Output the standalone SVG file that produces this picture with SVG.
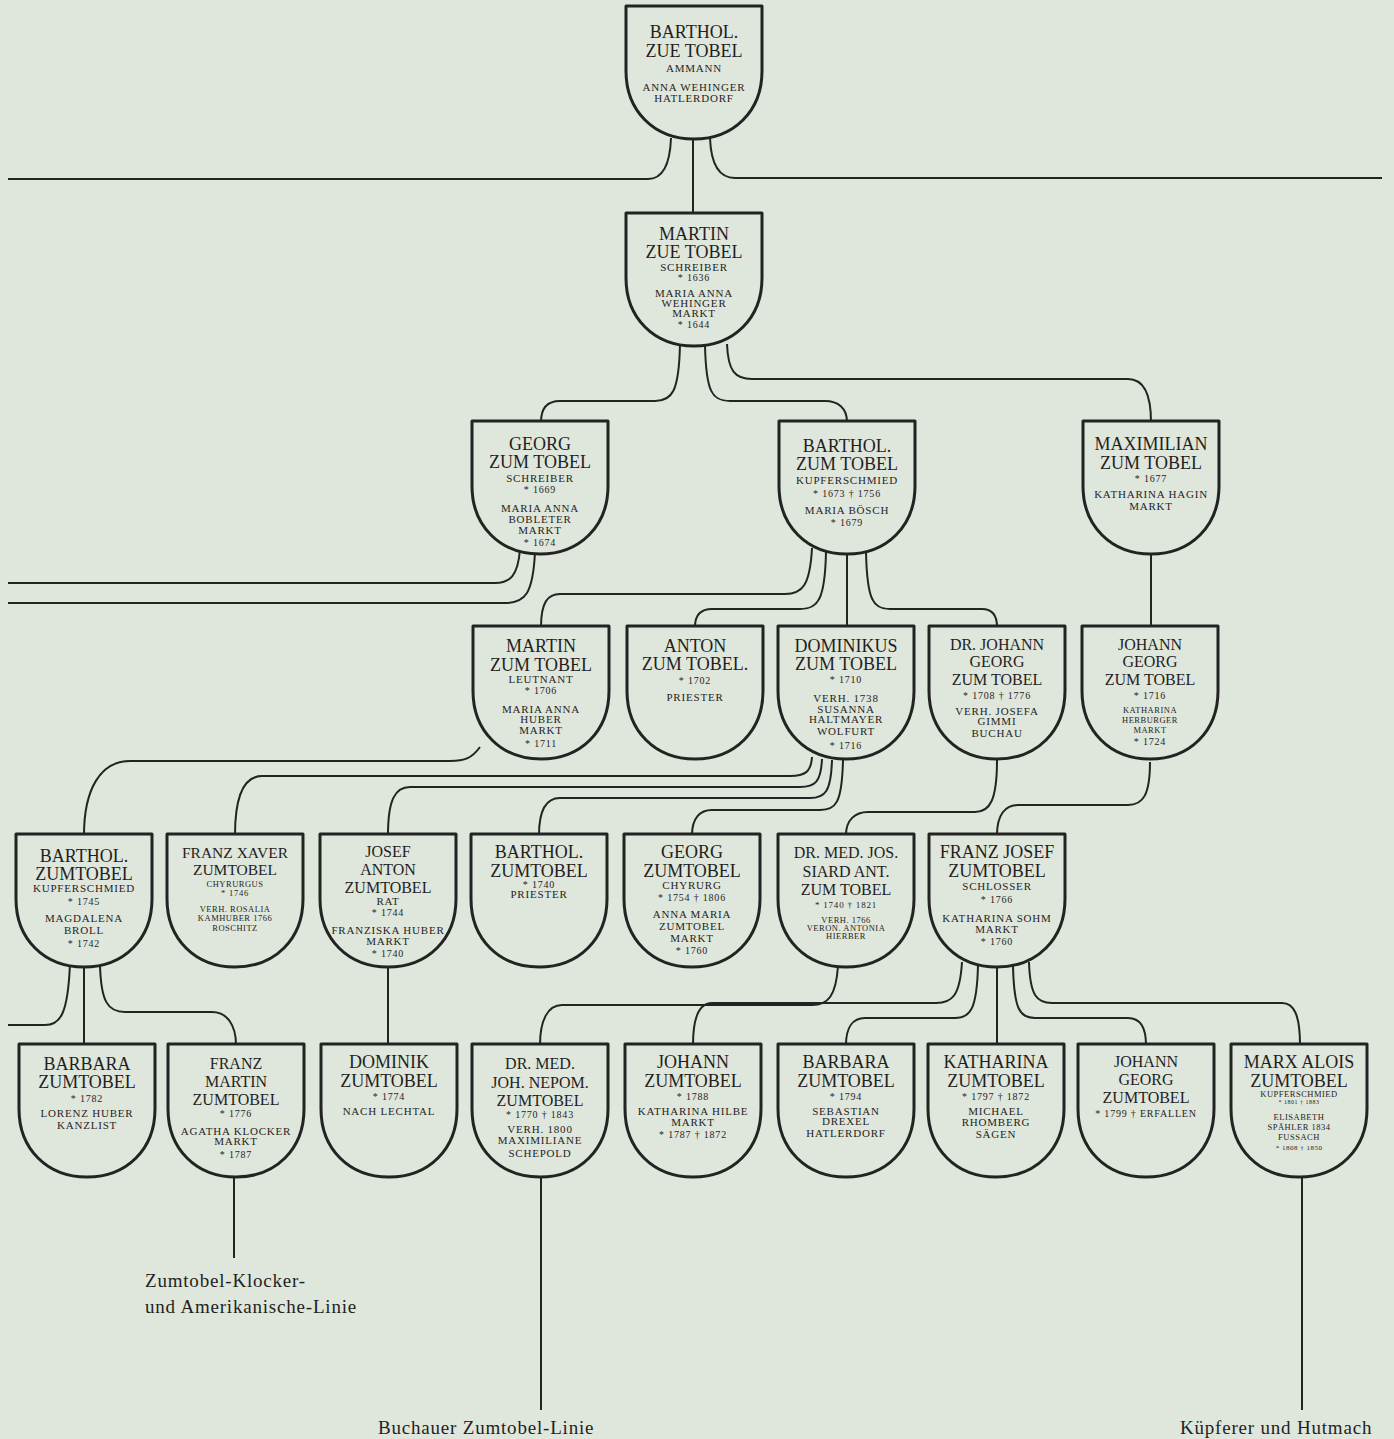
<svg xmlns="http://www.w3.org/2000/svg" xmlns:xlink="http://www.w3.org/1999/xlink" width="1394" height="1439" viewBox="0 0 1394 1439">
<style>
.bg{fill:#dfe6db}
.sh{fill:#dfe6db;stroke:#232323;stroke-width:3;stroke-linejoin:round}
.c{fill:none;stroke:#232323;stroke-width:2}
text{font-family:"Liberation Serif",serif;fill:#1f1f1f;text-anchor:middle}
.n{font-size:18px}
.n3{font-size:16px}
.m{font-size:15.5px}
.s{font-size:11px;letter-spacing:0.8px}
.y{font-size:10px;letter-spacing:0.8px}
.t{font-size:8.5px;letter-spacing:0.5px}
.lab{font-size:19px;letter-spacing:0.8px;text-anchor:start}
</style>
<defs>
<path id="shield" d="M-68,0 H68 V65 C68,105 40,133 0,133 C-40,133 -68,105 -68,65 Z"/>
</defs>
<rect class="bg" x="0" y="0" width="1394" height="1439"/>

<g id="connectors">
<path class="c" d="M8,179 H648 C663,179 670,165 671,138"/>
<path class="c" d="M710,138 C711,165 720,178 735,178 H1382"/>
<path class="c" d="M693,139 V214"/>
<path class="c" d="M680,344 C679,392 672,401 655,401 H560 C548,401 541,408 541,422"/>
<path class="c" d="M705,345 C706,392 712,401 730,401 H825 C838,401 847,408 847,422"/>
<path class="c" d="M727,344 C728,371 735,379 752,379 H1128 C1142,379 1151,390 1151,422"/>
<path class="c" d="M520,549 C518,576 510,583 495,583 H8"/>
<path class="c" d="M535,552 C533,594 525,603 505,603 H8"/>
<path class="c" d="M812,548 C810,586 802,594 785,594 H560 C548,594 541,602 541,627"/>
<path class="c" d="M826,552 C825,600 818,609 800,609 H712 C701,609 695,615 695,627"/>
<path class="c" d="M847,555 V627"/>
<path class="c" d="M866,552 C867,600 873,609 890,609 H982 C992,609 997,615 997,627"/>
<path class="c" d="M1151,555 V627"/>
<path class="c" d="M480,747 C472,758 465,761 450,761 H130 C100,761 84,790 84,835"/>
<path class="c" d="M812,757 C811,772 805,776 790,776 H262 C244,776 235,795 235,835"/>
<path class="c" d="M822,759 C821,782 815,787 800,787 H410 C395,787 388,800 388,835"/>
<path class="c" d="M832,760 C831,792 825,798 810,798 H560 C547,798 539,808 539,835"/>
<path class="c" d="M843,760 C842,803 836,810 820,810 H712 C700,810 692,818 692,835"/>
<path class="c" d="M997,760 C997,800 990,812 975,812 H868 C855,812 846,820 846,835"/>
<path class="c" d="M1150,762 C1150,795 1143,805 1128,805 H1018 C1005,805 997,815 997,835"/>
<path class="c" d="M70,963 C68,1015 60,1025 45,1025 H8"/>
<path class="c" d="M84,968 V1045"/>
<path class="c" d="M100,965 C101,1002 108,1012 125,1012 H212 C227,1012 236,1025 236,1045"/>
<path class="c" d="M388,968 V1045"/>
<path class="c" d="M838,966 C836,996 828,1005 812,1005 H562 C548,1005 540,1020 540,1045"/>
<path class="c" d="M962,962 C960,996 952,1003 936,1003 H712 C700,1003 693,1015 693,1045"/>
<path class="c" d="M978,965 C977,1010 970,1018 955,1018 H865 C853,1018 846,1027 846,1045"/>
<path class="c" d="M997,968 V1045"/>
<path class="c" d="M1013,966 C1014,1010 1020,1018 1035,1018 H1128 C1140,1018 1146,1027 1146,1045"/>
<path class="c" d="M1029,962 C1030,996 1037,1003 1052,1003 H1282 C1294,1003 1300,1015 1300,1045"/>
<path class="c" d="M234,1177 V1258"/>
<path class="c" d="M541,1177 V1410"/>
<path class="c" d="M1302,1177 V1410"/>
</g>

<g id="n-barthol-zue"><use href="#shield" x="694" y="6" class="sh"/>
<text class="n" x="694" y="38">BARTHOL.</text><text class="n" x="694" y="57">ZUE TOBEL</text>
<text class="s" x="694" y="72">AMMANN</text><text class="s" x="694" y="91">ANNA WEHINGER</text><text class="s" x="694" y="102">HATLERDORF</text></g>

<g id="n-martin-zue"><use href="#shield" x="694" y="213" class="sh"/>
<text class="n" x="694" y="240">MARTIN</text><text class="n" x="694" y="258">ZUE TOBEL</text>
<text class="s" x="694" y="271">SCHREIBER</text><text class="y" x="694" y="281">* 1636</text>
<text class="s" x="694" y="297">MARIA ANNA</text><text class="s" x="694" y="307">WEHINGER</text><text class="s" x="694" y="317">MARKT</text><text class="y" x="694" y="328">* 1644</text></g>

<g id="n-georg"><use href="#shield" x="540" y="421" class="sh"/>
<text class="n" x="540" y="450">GEORG</text><text class="n" x="540" y="468">ZUM TOBEL</text>
<text class="s" x="540" y="482">SCHREIBER</text><text class="y" x="540" y="493">* 1669</text>
<text class="s" x="540" y="512">MARIA ANNA</text><text class="s" x="540" y="523">BOBLETER</text><text class="s" x="540" y="534">MARKT</text><text class="y" x="540" y="546">* 1674</text></g>

<g id="n-barthol-zum"><use href="#shield" x="847" y="421" class="sh"/>
<text class="n" x="847" y="452">BARTHOL.</text><text class="n" x="847" y="470">ZUM TOBEL</text>
<text class="s" x="847" y="484">KUPFERSCHMIED</text><text class="y" x="847" y="497">* 1673 † 1756</text>
<text class="s" x="847" y="514">MARIA BÖSCH</text><text class="y" x="847" y="526">* 1679</text></g>

<g id="n-maximilian"><use href="#shield" x="1151" y="421" class="sh"/>
<text class="n" x="1151" y="450">MAXIMILIAN</text><text class="n" x="1151" y="469">ZUM TOBEL</text>
<text class="y" x="1151" y="482">* 1677</text>
<text class="s" x="1151" y="498">KATHARINA HAGIN</text><text class="s" x="1151" y="510">MARKT</text></g>

<g id="n-martin-zum"><use href="#shield" x="541" y="626" class="sh"/>
<text class="n" x="541" y="652">MARTIN</text><text class="n" x="541" y="671">ZUM TOBEL</text>
<text class="s" x="541" y="683">LEUTNANT</text><text class="y" x="541" y="694">* 1706</text>
<text class="s" x="541" y="713">MARIA ANNA</text><text class="s" x="541" y="723">HUBER</text><text class="s" x="541" y="734">MARKT</text><text class="y" x="541" y="747">* 1711</text></g>

<g id="n-anton"><use href="#shield" x="695" y="626" class="sh"/>
<text class="n" x="695" y="652">ANTON</text><text class="n" x="695" y="670">ZUM TOBEL.</text>
<text class="y" x="695" y="684">* 1702</text><text class="s" x="695" y="701">PRIESTER</text></g>

<g id="n-dominikus"><use href="#shield" x="846" y="626" class="sh"/>
<text class="n" x="846" y="652">DOMINIKUS</text><text class="n" x="846" y="670">ZUM TOBEL</text>
<text class="y" x="846" y="683">* 1710</text>
<text class="s" x="846" y="702">VERH. 1738</text><text class="s" x="846" y="713">SUSANNA</text><text class="s" x="846" y="723">HALTMAYER</text><text class="s" x="846" y="735">WOLFURT</text><text class="y" x="846" y="749">* 1716</text></g>

<g id="n-dr-johann-georg"><use href="#shield" x="997" y="626" class="sh"/>
<text class="n3" x="997" y="650">DR. JOHANN</text><text class="n3" x="997" y="667">GEORG</text><text class="n3" x="997" y="685">ZUM TOBEL</text>
<text class="y" x="997" y="699">* 1708 † 1776</text>
<text class="s" x="997" y="715">VERH. JOSEFA</text><text class="s" x="997" y="725">GIMMI</text><text class="s" x="997" y="737">BUCHAU</text></g>

<g id="n-johann-georg"><use href="#shield" x="1150" y="626" class="sh"/>
<text class="n3" x="1150" y="650">JOHANN</text><text class="n3" x="1150" y="667">GEORG</text><text class="n3" x="1150" y="685">ZUM TOBEL</text>
<text class="y" x="1150" y="699">* 1716</text>
<text class="t" x="1150" y="713">KATHARINA</text><text class="t" x="1150" y="723">HERBURGER</text><text class="t" x="1150" y="733">MARKT</text><text class="y" x="1150" y="745">* 1724</text></g>

<g id="n-barthol-zumtobel"><use href="#shield" x="84" y="834" class="sh"/>
<text class="n" x="84" y="862">BARTHOL.</text><text class="n" x="84" y="880">ZUMTOBEL</text>
<text class="s" x="84" y="892">KUPFERSCHMIED</text><text class="y" x="84" y="905">* 1745</text>
<text class="s" x="84" y="922">MAGDALENA</text><text class="s" x="84" y="934">BROLL</text><text class="y" x="84" y="947">* 1742</text></g>

<g id="n-franz-xaver"><use href="#shield" x="235" y="834" class="sh"/>
<text class="m" x="235" y="858">FRANZ XAVER</text><text class="m" x="235" y="875">ZUMTOBEL</text>
<text class="t" x="235" y="887">CHYRURGUS</text><text class="y" x="235" y="896" style="font-size:8.5px">* 1746</text>
<text class="t" x="235" y="912">VERH. ROSALIA</text><text class="t" x="235" y="921">KAMHUBER 1766</text><text class="t" x="235" y="931">ROSCHITZ</text></g>

<g id="n-josef-anton"><use href="#shield" x="388" y="834" class="sh"/>
<text class="n3" x="388" y="857">JOSEF</text><text class="n3" x="388" y="875">ANTON</text><text class="n3" x="388" y="893">ZUMTOBEL</text>
<text class="s" x="388" y="905">RAT</text><text class="y" x="388" y="916">* 1744</text>
<text class="s" x="388" y="934">FRANZISKA HUBER</text><text class="s" x="388" y="945">MARKT</text><text class="y" x="388" y="957">* 1740</text></g>

<g id="n-barthol-priester"><use href="#shield" x="539" y="834" class="sh"/>
<text class="n" x="539" y="858">BARTHOL.</text><text class="n" x="539" y="877">ZUMTOBEL</text>
<text class="y" x="539" y="888">* 1740</text><text class="s" x="539" y="898">PRIESTER</text></g>

<g id="n-georg-zumtobel"><use href="#shield" x="692" y="834" class="sh"/>
<text class="n" x="692" y="858">GEORG</text><text class="n" x="692" y="877">ZUMTOBEL</text>
<text class="s" x="692" y="889">CHYRURG</text><text class="y" x="692" y="901">* 1754 † 1806</text>
<text class="s" x="692" y="918">ANNA MARIA</text><text class="s" x="692" y="930">ZUMTOBEL</text><text class="s" x="692" y="942">MARKT</text><text class="y" x="692" y="954">* 1760</text></g>

<g id="n-dr-med-jos"><use href="#shield" x="846" y="834" class="sh"/>
<text class="n3" x="846" y="858">DR. MED. JOS.</text><text class="n3" x="846" y="877">SIARD ANT.</text><text class="n3" x="846" y="895">ZUM TOBEL</text>
<text class="y" x="846" y="908" style="font-size:9px">* 1740 † 1821</text>
<text class="t" x="846" y="923">VERH. 1766</text><text class="t" x="846" y="931">VERON. ANTONIA</text><text class="t" x="846" y="939">HIERBER</text></g>

<g id="n-franz-josef"><use href="#shield" x="997" y="834" class="sh"/>
<text class="n" x="997" y="858">FRANZ JOSEF</text><text class="n" x="997" y="877">ZUMTOBEL</text>
<text class="s" x="997" y="890">SCHLOSSER</text><text class="y" x="997" y="903">* 1766</text>
<text class="s" x="997" y="922">KATHARINA SOHM</text><text class="s" x="997" y="933">MARKT</text><text class="y" x="997" y="945">* 1760</text></g>

<g id="n-barbara-1782"><use href="#shield" x="87" y="1044" class="sh"/>
<text class="n" x="87" y="1070">BARBARA</text><text class="n" x="87" y="1088">ZUMTOBEL</text>
<text class="y" x="87" y="1102">* 1782</text>
<text class="s" x="87" y="1117">LORENZ HUBER</text><text class="s" x="87" y="1129">KANZLIST</text></g>

<g id="n-franz-martin"><use href="#shield" x="236" y="1044" class="sh"/>
<text class="n3" x="236" y="1069">FRANZ</text><text class="n3" x="236" y="1087">MARTIN</text><text class="n3" x="236" y="1105">ZUMTOBEL</text>
<text class="y" x="236" y="1117">* 1776</text>
<text class="s" x="236" y="1135">AGATHA KLOCKER</text><text class="s" x="236" y="1145">MARKT</text><text class="y" x="236" y="1158">* 1787</text></g>

<g id="n-dominik"><use href="#shield" x="389" y="1044" class="sh"/>
<text class="n" x="389" y="1068">DOMINIK</text><text class="n" x="389" y="1087">ZUMTOBEL</text>
<text class="y" x="389" y="1100">* 1774</text><text class="s" x="389" y="1115">NACH LECHTAL</text></g>

<g id="n-dr-med-joh"><use href="#shield" x="540" y="1044" class="sh"/>
<text class="n3" x="540" y="1069">DR. MED.</text><text class="n3" x="540" y="1088">JOH. NEPOM.</text><text class="n3" x="540" y="1106">ZUMTOBEL</text>
<text class="y" x="540" y="1118">* 1770 † 1843</text>
<text class="s" x="540" y="1133">VERH. 1800</text><text class="s" x="540" y="1144">MAXIMILIANE</text><text class="s" x="540" y="1157">SCHEPOLD</text></g>

<g id="n-johann"><use href="#shield" x="693" y="1044" class="sh"/>
<text class="n" x="693" y="1068">JOHANN</text><text class="n" x="693" y="1087">ZUMTOBEL</text>
<text class="y" x="693" y="1100">* 1788</text>
<text class="s" x="693" y="1115">KATHARINA HILBE</text><text class="s" x="693" y="1126">MARKT</text><text class="y" x="693" y="1138">* 1787 † 1872</text></g>

<g id="n-barbara-1794"><use href="#shield" x="846" y="1044" class="sh"/>
<text class="n" x="846" y="1068">BARBARA</text><text class="n" x="846" y="1087">ZUMTOBEL</text>
<text class="y" x="846" y="1100">* 1794</text>
<text class="s" x="846" y="1115">SEBASTIAN</text><text class="s" x="846" y="1125">DREXEL</text><text class="s" x="846" y="1137">HATLERDORF</text></g>

<g id="n-katharina"><use href="#shield" x="996" y="1044" class="sh"/>
<text class="n" x="996" y="1068">KATHARINA</text><text class="n" x="996" y="1087">ZUMTOBEL</text>
<text class="y" x="996" y="1100">* 1797 † 1872</text>
<text class="s" x="996" y="1115">MICHAEL</text><text class="s" x="996" y="1126">RHOMBERG</text><text class="s" x="996" y="1138">SÄGEN</text></g>

<g id="n-johann-georg-1799"><use href="#shield" x="1146" y="1044" class="sh"/>
<text class="n3" x="1146" y="1067">JOHANN</text><text class="n3" x="1146" y="1085">GEORG</text><text class="n3" x="1146" y="1103">ZUMTOBEL</text>
<text class="y" x="1146" y="1117">* 1799 † ERFALLEN</text></g>

<g id="n-marx-alois"><use href="#shield" x="1299" y="1044" class="sh"/>
<text class="n" x="1299" y="1068">MARX ALOIS</text><text class="n" x="1299" y="1087">ZUMTOBEL</text>
<text class="t" x="1299" y="1097">KUPFERSCHMIED</text><text class="t" x="1299" y="1104" style="font-size:6px">* 1801 † 1883</text>
<text class="t" x="1299" y="1120">ELISABETH</text><text class="t" x="1299" y="1130">SPÄHLER 1834</text><text class="t" x="1299" y="1140">FUSSACH</text><text class="t" x="1299" y="1150" style="font-size:7px">* 1808 † 1850</text></g>

<g id="labels">
<text class="lab" x="145" y="1287">Zumtobel-Klocker-</text>
<text class="lab" x="145" y="1313">und Amerikanische-Linie</text>
<text class="lab" x="378" y="1434">Buchauer Zumtobel-Linie</text>
<text class="lab" x="1180" y="1434">Küpferer und Hutmach</text>
</g>
</svg>
